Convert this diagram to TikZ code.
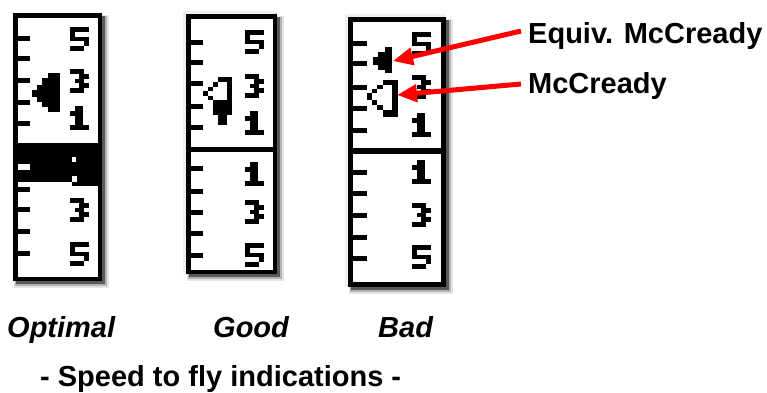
\documentclass[tikz,border=0pt]{standalone}
\usepackage{fontspec}
\setmainfont{Liberation Sans}
\usetikzlibrary{arrows.meta}
\newcommand\gshadowbox[4]{%
  \fill[black!10] (#1+1,#2+2) rectangle (#3+7,#4+7);
  \fill[black!30] (#1+2,#2+3) rectangle (#3+5,#4+5);
  \fill[black!65] (#1+3,#2+3) rectangle (#3+3,#4+3);
}
\tikzset{
  gframe/.style={draw=black, fill=white, line width=4.5pt},
  lbl/.style={inner sep=0pt, font=\fontsize{29}{32}\selectfont\bfseries},
  redarrow/.style={draw=red, line width=5pt, -{Triangle[length=20pt,width=17pt]}},
  dfive/.pic={\begin{scope}[x=4.7pt,y=-4.8pt]
    \fill (0,0) rectangle (4,1); \fill (0,1) rectangle (1,2);
    \fill (0,2) rectangle (4,3); \fill (3,3) rectangle (4,4);
    \fill (0,4) rectangle (3,5);
  \end{scope}},
  dthree/.pic={\begin{scope}[x=4.7pt,y=-4.8pt]
    \fill (0,0) rectangle (3,1); \fill (2,1) rectangle (4,2);
    \fill (1,2) rectangle (3,3); \fill (2,3) rectangle (4,4);
    \fill (0,4) rectangle (3,5);
  \end{scope}},
  done/.pic={\begin{scope}[x=4.7pt,y=-4.8pt]
    \fill (1,0) rectangle (2.8,1); \fill (0,1) rectangle (2.8,2);
    \fill (1,2) rectangle (2.8,4); \fill (0,4) rectangle (4,5);
  \end{scope}},
}
\begin{document}
\begin{tikzpicture}[x=1pt,y=-1pt]
\useasboundingbox (0,0) rectangle (767,392);
\fill[white] (0,0) rectangle (767,392);

% ---------------- Gauge 1 : Optimal ----------------
\gshadowbox{13}{13}{102}{281}
\draw[gframe] (15.25,15.25) rectangle (99.75,278.75);
\foreach \yy in {38,58,80,102,123,189,209,231,253}
  \fill (13,\yy-2.5) rectangle (30,\yy+2.5);
\pic at (70,27) {dfive};
\pic at (70,69) {dthree};
\pic at (70,106) {done};
% inverted band
\fill (13,143) rectangle (102,182);
\fill (72,182) rectangle (98,186);
\fill[white] (18,164) rectangle (30,170);
\fill[white] (72,157) rectangle (76,162);
\fill[white] (72,176) rectangle (77,182);
\pic at (70,198) {dthree};
\pic at (70,242) {dfive};
% solid arrow
\fill (48,73) rectangle (60,78);
\fill (42,78) rectangle (60,85);
\fill (37,85) rectangle (60,90);
\fill (32,90) rectangle (60,97);
\fill (37,97) rectangle (60,102);
\fill (42,102) rectangle (60,107);
\fill (48,107) rectangle (60,112);

% ---------------- Gauge 2 : Good ----------------
\fill[black!6] (183,11) rectangle (277,274);
\gshadowbox{186}{14}{277}{274}
\draw[gframe] (188.25,16.25) rectangle (274.75,271.75);
\fill (186,147) rectangle (277,152);
\foreach \yy in {42,62,83,106,127,168,191,212,233,255}
  \fill (186,\yy-2.5) rectangle (203,\yy+2.5);
\pic at (245,30) {dfive};
\pic at (245,74) {dthree};
\pic at (245,111) {done};
\pic at (245,162) {done};
\pic at (245,200) {dthree};
\pic at (245,243) {dfive};
% overlapping arrows
\fill (218,77) rectangle (232,82);
\fill (227,77) rectangle (232,115);
\fill (213,82) rectangle (218,87);
\fill (208,87) rectangle (213,91);
\fill (203,91) rectangle (208,96);
\fill (208,96) rectangle (213,100);
\fill (213,100) rectangle (232,115);
\fill (218,115) rectangle (227,125);

% ---------------- Gauge 3 : Bad ----------------
\fill[black!6] (345,14) rectangle (446,287);
\gshadowbox{348}{17}{446}{287}
\draw[gframe] (350.5,19.5) rectangle (443.5,284.5);
\fill (348,148) rectangle (446,154);
\foreach \yy in {43,63,87,108,130,172,193,215,237,258}
  \fill (348,\yy-2.5) rectangle (367,\yy+2.5);
\pic at (412,32) {dfive};
\pic at (412,75) {dthree};
\pic at (412,113) {done};
\pic at (412,160) {done};
\pic at (412,203) {dthree};
\pic at (412,245) {dfive};
% equivalent McCready (solid)
\fill (385,47) rectangle (392,73);
\fill (378,52) rectangle (385,70);
\fill (373,57) rectangle (378,65);
% McCready (hollow)
\fill (392,80) rectangle (398,117);
\fill (383,80) rectangle (392,85);
\fill (377,85) rectangle (383,89);
\fill (372,89) rectangle (377,93);
\fill (367,93) rectangle (372,100);
\fill (372,100) rectangle (377,105);
\fill (377,105) rectangle (383,110);
\fill (383,110) rectangle (392,117);

% ---------------- labels and red arrows ----------------
\node[lbl, anchor=base west] (eq) at (528,43) {Equiv. McCready};
\node[lbl, anchor=base west] (mc) at (528,93) {McCready};
\coordinate (eqstart) at (521,31);
\coordinate (eqtip) at (393,61);
\coordinate (mcstart) at (521,84);
\coordinate (mctip) at (397,95);
\draw[redarrow] (eqstart) -- (eqtip);
\draw[redarrow] (mcstart) -- (mctip);

\node[lbl, anchor=base west] (opt) at (7,337) {\itshape Optimal};
\node[lbl, anchor=base west] (good) at (213,337) {\itshape Good};
\node[lbl, anchor=base west] (bad) at (378,337) {\itshape Bad};
\node[lbl, anchor=base west] (title) at (40,386) {- Speed to fly indications -};
\end{tikzpicture}
\end{document}
